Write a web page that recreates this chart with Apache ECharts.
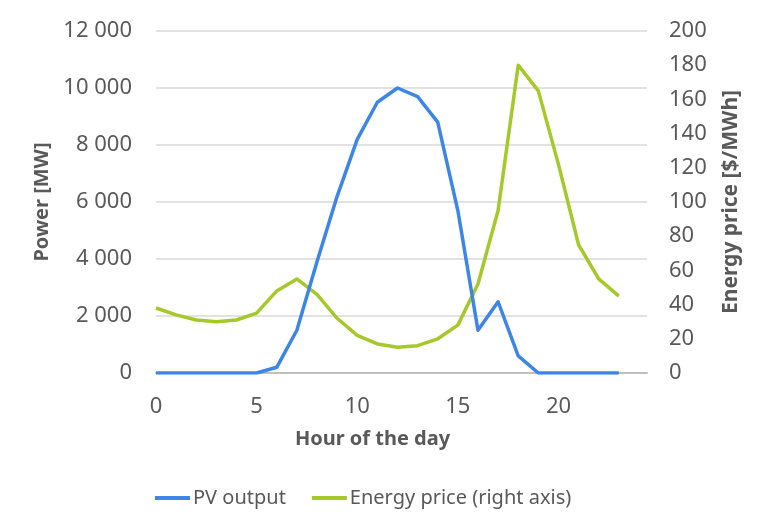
<!DOCTYPE html>
<html>
<head>
<meta charset="utf-8">
<script src="https://cdn.jsdelivr.net/npm/echarts@6/dist/echarts.min.js"></script>
<style>
  html, body { margin: 0; padding: 0; background: #ffffff; }
  #chart { width: 780px; height: 531px; }
</style>
</head>
<body>
<div id="chart"></div>
<script>
const hours = [0,1,2,3,4,5,6,7,8,9,10,11,12,13,14,15,16,17,18,19,20,21,22,23];
const pvOutput = [0,0,0,0,0,0,200,1500,3900,6200,8200,9500,10000,9700,8800,5700,1500,2500,600,0,0,0,0,0];
const energyPrice = [38,34,31,30,31,35,48,55,46,32,22,17,15,16,20,28,52,95,180,165,122,75,55,45];
const seriesNames = ['PV output', 'Energy price (right axis)'];
const axisTitles = { x: 'Hour of the day', left: 'Power [MW]', right: 'Energy price [$/MWh]' };

const FONT = 'Noto Sans';
const TEXT = '#595959';
const BLUE = '#3d85e6';
const GREEN = '#a5c82b';

function thousands(v) {
  return String(v).replace(/\B(?=(\d{3})+(?!\d))/g, ' ');
}

const chart = echarts.init(document.getElementById('chart'), null, { renderer: 'canvas' });
chart.setOption({
  animation: false,
  backgroundColor: '#ffffff',
  textStyle: { fontFamily: FONT },
  grid: { left: 156, right: 133, top: 31, bottom: 158, containLabel: false },
  legend: {
    data: seriesNames,
    left: 150,
    top: 483,
    icon: 'rect',
    itemWidth: 35,
    itemHeight: 4,
    itemGap: 26,
    textStyle: { color: TEXT, fontSize: 20, fontFamily: FONT, padding: [0, 0, 0, -2] }
  },
  xAxis: {
    type: 'value',
    min: 0,
    max: 24.4,
    interval: 5,
    name: axisTitles.x,
    nameLocation: 'middle',
    nameGap: 56,
    nameTextStyle: { color: TEXT, fontSize: 20, fontWeight: 'bold', fontFamily: FONT, padding: [0, 58, 0, 0] },
    axisLine: { show: true, lineStyle: { color: '#bfbfbf', width: 2 } },
    axisTick: { show: false },
    splitLine: { show: false },
    axisLabel: { color: TEXT, fontSize: 22, margin: 23, showMaxLabel: false, fontFamily: FONT }
  },
  yAxis: [
    {
      type: 'value',
      min: 0,
      max: 12000,
      interval: 2000,
      position: 'left',
      name: axisTitles.left,
      nameLocation: 'middle',
      nameGap: 104,
      nameRotate: 90,
      nameTextStyle: { color: TEXT, fontSize: 20, fontWeight: 'bold', fontFamily: FONT },
      axisLine: { show: false },
      axisTick: { show: false },
      splitLine: { show: true, lineStyle: { color: '#d9d9d9', width: 1.5 } },
      axisLabel: { color: TEXT, fontSize: 22, margin: 24, fontFamily: FONT, formatter: thousands }
    },
    {
      type: 'value',
      min: 0,
      max: 200,
      interval: 20,
      position: 'right',
      name: axisTitles.right,
      nameLocation: 'middle',
      nameGap: 74,
      nameRotate: 90,
      nameTextStyle: { color: TEXT, fontSize: 21, fontWeight: 'bold', fontFamily: FONT },
      axisLine: { show: false },
      axisTick: { show: false },
      splitLine: { show: false },
      axisLabel: { color: TEXT, fontSize: 22, margin: 22, fontFamily: FONT }
    }
  ],
  series: [
    {
      name: seriesNames[0],
      type: 'line',
      yAxisIndex: 0,
      data: hours.map((h, i) => [h, pvOutput[i]]),
      symbol: 'none',
      lineStyle: { color: BLUE, width: 3.5, join: 'round' },
      itemStyle: { color: BLUE },
      z: 3
    },
    {
      name: seriesNames[1],
      type: 'line',
      yAxisIndex: 1,
      data: hours.map((h, i) => [h, energyPrice[i]]),
      symbol: 'none',
      lineStyle: { color: GREEN, width: 3.5, join: 'round' },
      itemStyle: { color: GREEN },
      z: 2
    }
  ]
});
</script>
</body>
</html>
